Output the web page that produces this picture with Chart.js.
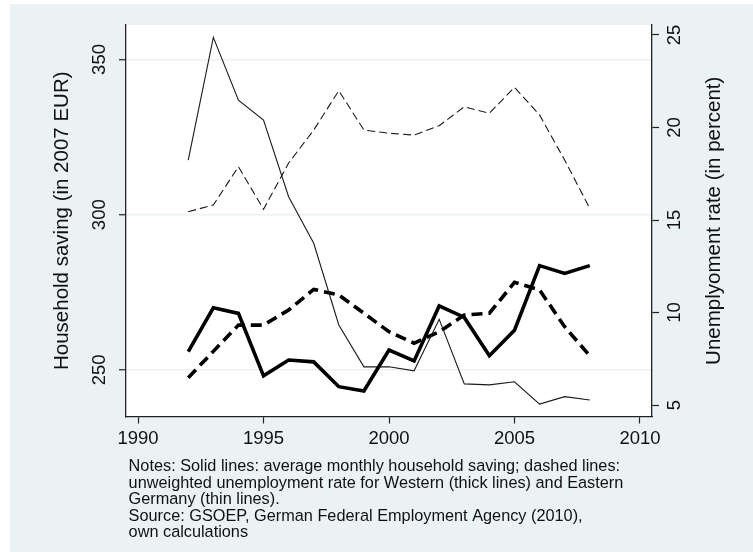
<!DOCTYPE html>
<html>
<head>
<meta charset="utf-8">
<script src="https://cdn.jsdelivr.net/npm/chart.js@4.4.1/dist/chart.umd.min.js"></script>
<style>
    html, body { margin: 0; padding: 0; background: #fff; }
    #wrap { position: absolute; left: 10px; top: 4px; width: 743px; height: 548px; background: #eaf2f3; }
</style>
</head>
<body>
<div id="wrap"><canvas id="savingChart" width="743" height="548"></canvas></div>
<script>
// values
const years = [1992, 1993, 1994, 1995, 1996, 1997, 1998, 1999, 2000, 2001, 2002, 2003, 2004, 2005, 2006, 2007, 2008];
const savingWest = [255.9, 270.0, 268.2, 248.1, 253.2, 252.6, 244.6, 243.2, 256.4, 252.9, 270.6, 266.9, 254.6, 262.8, 283.6, 281.1, 283.6];
const savingEast = [317.6, 357.1, 336.9, 330.5, 305.8, 290.8, 264.5, 251.0, 251.0, 249.7, 266.3, 245.5, 245.2, 246.2, 239.0, 241.4, 240.3];
const unempWest = [6.48, 7.9, 9.32, 9.32, 10.14, 11.25, 10.95, 9.96, 8.96, 8.34, 8.96, 9.86, 9.96, 11.63, 11.22, 9.23, 7.66];
const unempEast = [15.45, 15.81, 17.88, 15.58, 18.08, 19.86, 21.99, 19.86, 19.69, 19.59, 20.1, 21.12, 20.77, 22.17, 20.68, 18.24, 15.63];

const yearTicks = [1990, 1995, 2000, 2005, 2010];
const savingTicks = [250, 300, 350];
const unempTicks = [5, 10, 15, 20, 25];

const notes = [
    'Notes: Solid lines: average monthly household saving; dashed lines:',
    'unweighted unemployment rate for Western (thick lines) and Eastern',
    'Germany (thin lines).',
    'Source: GSOEP, German Federal Employment Agency (2010),',
    'own calculations'
];

const FONT = '"Liberation Sans", Arial, sans-serif';

function points(values) {
    return years.map((yr, i) => ({ x: yr, y: values[i] }));
}

// white plot region + all the text (Stata style rotated labels)
const stataText = {
    id: 'stataText',
    beforeDraw(chart) {
        const { ctx, chartArea: a } = chart;
        ctx.save();
        ctx.fillStyle = '#fff';
        ctx.fillRect(a.left, a.top, a.right - a.left, a.bottom - a.top);
        ctx.restore();
    },
    afterDraw(chart) {
        const { ctx, chartArea: a, scales } = chart;
        const rotated = (text, x, y) => {
            ctx.save();
            ctx.translate(x, y);
            ctx.rotate(-Math.PI / 2);
            ctx.fillText(text, 0, 0);
            ctx.restore();
        };
        ctx.save();
        ctx.fillStyle = '#111';
        ctx.textAlign = 'center';
        ctx.textBaseline = 'middle';

        ctx.font = '18.5px ' + FONT;
        scales.x.ticks.forEach(t => ctx.fillText(String(t.value), scales.x.getPixelForValue(t.value), a.bottom + 22.5));
        scales.y.ticks.forEach(t => rotated(String(t.value), a.left - 26, scales.y.getPixelForValue(t.value)));
        scales.y2.ticks.forEach(t => rotated(String(t.value), a.right + 23, scales.y2.getPixelForValue(t.value)));

        ctx.font = '20.5px ' + FONT;
        const midY = (a.top + a.bottom) / 2;
        rotated('Household saving (in 2007 EUR)', a.left - 64, midY);
        rotated('Unemplyoment rate (in percent)', a.right + 62, midY);

        ctx.font = '16.3px ' + FONT;
        ctx.textAlign = 'left';
        notes.forEach((line, i) => ctx.fillText(line, a.left + 2.6, a.bottom + 50.5 + i * 16.5));
        ctx.restore();
    }
};

const axisBorder = { display: true, color: '#222', width: 1.3 };

new Chart(document.getElementById('savingChart').getContext('2d'), {
    type: 'line',
    data: {
        datasets: [
            { label: 'Saving West', data: points(savingWest), yAxisID: 'y', borderColor: '#000', borderWidth: 3.6 },
            { label: 'Saving East', data: points(savingEast), yAxisID: 'y', borderColor: '#1a1a1a', borderWidth: 1.1 },
            { label: 'Unemployment West', data: points(unempWest), yAxisID: 'y2', borderColor: '#000', borderWidth: 3.6, borderDash: [11, 6] },
            { label: 'Unemployment East', data: points(unempEast), yAxisID: 'y2', borderColor: '#1a1a1a', borderWidth: 1.1, borderDash: [8, 4] }
        ]
    },
    options: {
        responsive: false,
        animation: false,
        devicePixelRatio: 1,
        layout: { padding: { top: 21, left: 0, right: 0, bottom: 0 } },
        elements: {
            point: { radius: 0 },
            line: { tension: 0, fill: false }
        },
        plugins: {
            legend: { display: false },
            tooltip: { enabled: false }
        },
        scales: {
            x: {
                type: 'linear',
                min: 1989.52,
                max: 2010.48,
                afterBuildTicks: s => { s.ticks = yearTicks.map(v => ({ value: v })); },
                afterFit: s => { s.height = 135.5; },
                ticks: { display: false },
                grid: { drawOnChartArea: false, drawTicks: true, tickLength: 7, tickColor: '#222', tickWidth: 1.2 },
                border: axisBorder
            },
            y: {
                position: 'left',
                min: 235.0,
                max: 361.1,
                afterBuildTicks: s => { s.ticks = savingTicks.map(v => ({ value: v })); },
                afterFit: s => { s.width = 116; },
                ticks: { display: false },
                grid: { color: '#eaf2f3', lineWidth: 1.5, drawTicks: true, tickLength: 7, tickColor: '#222', tickWidth: 1.2 },
                border: axisBorder
            },
            y2: {
                position: 'right',
                min: 4.38,
                max: 25.54,
                afterBuildTicks: s => { s.ticks = unempTicks.map(v => ({ value: v })); },
                afterFit: s => { s.width = 101; },
                ticks: { display: false },
                grid: { drawOnChartArea: false, drawTicks: true, tickLength: 7, tickColor: '#222', tickWidth: 1.2 },
                border: axisBorder
            }
        }
    },
    plugins: [stataText]
});
</script>
</body>
</html>
